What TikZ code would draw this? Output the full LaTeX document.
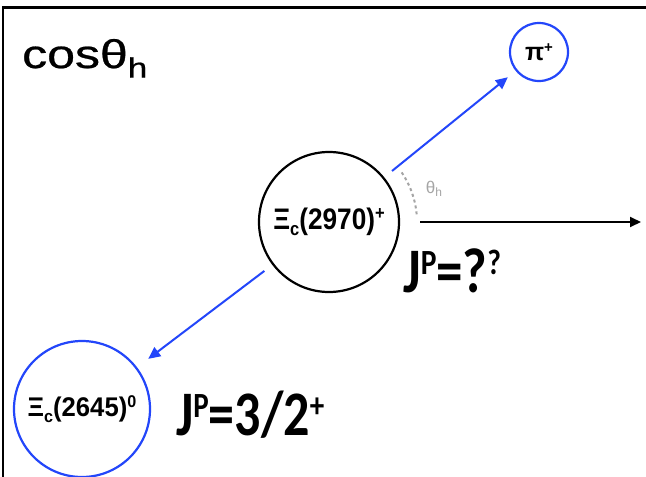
\documentclass[tikz,border=0pt]{standalone}
\usepackage{fontspec}
\setmainfont{Liberation Sans}
\newfontfamily\calfont{Carlito}
\newfontfamily\titlefont[FakeBold=0.6]{Liberation Sans}
\usetikzlibrary{arrows.meta}
\definecolor{pblue}{RGB}{35,70,250}
\definecolor{agray}{RGB}{165,165,165}
\newcommand{\jpsup}[1]{\raisebox{0.28em}{\fontsize{29}{29}\selectfont #1}}
\tikzset{
  particle/.style={circle,draw,line width=2.2pt,inner sep=0pt,font=\bfseries},
  decay/.style={pblue,line width=2pt,-{Triangle[length=12pt,width=11pt]}},
  axisline/.style={black,line width=2pt,-{Triangle[length=11pt,width=10pt]}},
  jplabel/.style={font=\calfont\bfseries\fontsize{52}{52}\selectfont,inner sep=0pt},
}
\begin{document}
\begin{tikzpicture}[x=1pt,y=-1pt]
\useasboundingbox (0,0) rectangle (646,477);
\fill[white] (0,0) rectangle (646,477);
% frame
\draw[line width=2.8pt] (3,477) -- (3,7.5) -- (646,7.5);
% title
\node[anchor=base west,inner sep=0pt,font=\titlefont\fontsize{40}{40}\selectfont] (title) at (22,68)
  {\scalebox{1.25}[1]{cosθ\raisebox{-0.24em}{\fontsize{28}{28}\selectfont h}}};
% particles
\node[particle,minimum size=140pt,font=\bfseries\fontsize{27}{27}\selectfont] (main) at (329,222)
  {\scalebox{0.97}[1.1]{Ξ\raisebox{-0.22em}{\fontsize{17}{17}\selectfont c}(2970)\raisebox{0.35em}{\fontsize{17}{17}\selectfont +}}};
\node[particle,pblue,minimum size=58pt,text=black,font=\bfseries\fontsize{25}{25}\selectfont] (pi) at (539,52)
  {π\raisebox{0.3em}{\fontsize{15}{15}\selectfont +}};
\node[particle,pblue,minimum size=136pt,text=black,font=\bfseries\fontsize{27}{27}\selectfont] (xi) at (82,409)
  {\scalebox{0.95}[1]{Ξ\raisebox{-0.22em}{\fontsize{17}{17}\selectfont c}(2645)\raisebox{0.35em}{\fontsize{17}{17}\selectfont 0}}};
% decay arrows
\draw[decay,shorten <=10pt,shorten >=10pt] (main) -- (pi);
\draw[decay,shorten <=10pt,shorten >=14pt] (main) -- (xi);
% axis
\coordinate (axend) at (641,222);
\draw[axisline,shorten <=20pt] (main.east) -- (axend);
% angle
\draw[agray,line width=2pt,dash pattern=on 3pt off 3pt] (416.67,214.33) arc[start angle=5,end angle=35,radius=88pt];
\node[agray,font=\fontsize{17}{17}\selectfont,inner sep=0pt] (theta) at (434,189) {θ\raisebox{-0.2em}{\fontsize{12}{12}\selectfont h}};
% JP labels
\node[jplabel,anchor=base west] (jp1) at (403,292) {\scalebox{1.02}[1.22]{J\jpsup{P}=?\jpsup{?}}};
\node[jplabel,anchor=base west] (jp2) at (176,435) {\scalebox{1.0}[1.22]{J\jpsup{P}=3/2\jpsup{+}}};
\end{tikzpicture}
\end{document}
